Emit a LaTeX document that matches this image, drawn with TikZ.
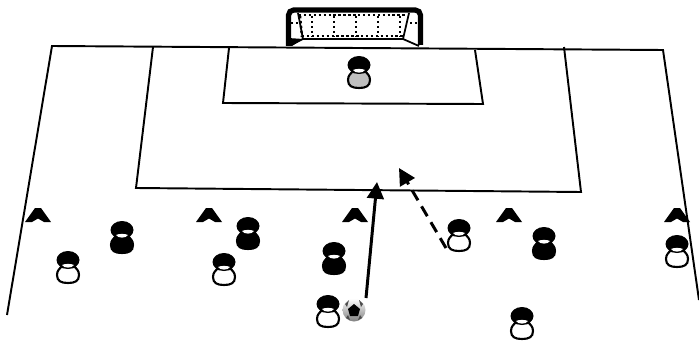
\documentclass[tikz,border=0pt]{standalone}
\usepackage[rgb]{xcolor}
\usetikzlibrary{arrows.meta}

\tikzset{
  fieldline/.style={draw=black, line width=1.1pt},
  netdots/.style={black, line width=1.4pt, dash pattern=on 1.4pt off 1.4pt},
  run/.style={black, line width=1.7pt, -{Triangle[length=9.5pt, width=9.5pt]}},
  cone/.pic={\fill[black] (-13,7) -- (-3,-7) -- (3,-7) -- (13,7) -- (6,7) -- (0,3.5) -- (-6,7) -- cycle;},
  player/.pic={
    % body first, then the head on top with the white gap under it
    \filldraw[fill=#1, draw=black, line width=1.2pt]
      (-7,7) .. controls (-8,9) and (-11,10) .. (-11,15)
      .. controls (-11,21) and (-7,23) .. (0,23)
      .. controls (7,23) and (11,21) .. (11,15)
      .. controls (11,10) and (8,9) .. (7,7) -- cycle;
    \fill[black] (0,0) ellipse [x radius=11.5, y radius=9];
    \fill[white] (-6,5) .. controls (-3,3.5) and (3,3.5) .. (6,5)
      .. controls (4,8.5) and (-4,8.5) .. cycle;
  }
}

\begin{document}
\begin{tikzpicture}[x=0.02cm, y=-0.02cm]
\useasboundingbox (0,0) rectangle (699,341);

% field lines
\draw[fieldline] (7,315) -- (52,46) -- (663,50) -- (699,300);
\draw[fieldline] (153,47) -- (136,188) -- (581,192) -- (564,47);
\draw[fieldline] (229,48) -- (223,103) -- (483,104) -- (475,50);

% goal with side panels
\fill[black] (288,38) -- (303,39) -- (292,46) -- (288,46) -- cycle;
\draw[black, line width=3pt, rounded corners=3pt] (288.5,46) -- (288.5,10) -- (420.5,10) -- (420.5,45);
\draw[black, line width=1pt] (298,13) -- (303,39) -- (291,45);
\draw[black, line width=1pt] (409,13) -- (403,39) -- (419,46);
\draw[black, line width=1pt] (303,39) -- (403,39);
\draw[netdots] (299,15) -- (405,15);
\draw[netdots] (302,36) -- (403,36);
\foreach \netx in {312,334,356,378,400}
  \draw[netdots] (\netx,16) -- (\netx,36);
\draw[netdots] (300,16) -- (302,37);
\draw[netdots] (291,23) -- (298,23);
\draw[netdots] (410,23) -- (417,23);

% cones along the line
\foreach \conex in {38,209,355,509,677}
  \pic at (\conex,215) {cone};

% players
\pic at (359,65) {player=lightgray};
\foreach \px/\py in {68/260, 224/262, 328/304, 459/228, 522/316, 677/244}
  \pic at (\px,\py) {player=white};
\foreach \px/\py in {122/230, 248/226, 334/251, 544/236}
  \pic at (\px,\py) {player=black};

% ball
\shade[top color=white, bottom color=gray] (354,310) circle (11.5);
\fill[black] (354,304) -- (360,309) -- (358,316) -- (350,316) -- (348,309) -- cycle;
\fill[black!70] (345,304) -- (349,300) -- (347,307) -- cycle;
\fill[black!70] (363,304) -- (359,300) -- (361,307) -- cycle;
\fill[black!70] (346,318) -- (350,320) -- (348,315) -- cycle;
\fill[black!70] (362,318) -- (358,320) -- (360,315) -- cycle;

% runs
\coordinate (shotstart) at (366,298);
\coordinate (shotend) at (377,182);
\coordinate (runstart) at (446,248);
\coordinate (runend) at (399,168);
\draw[run] (shotstart) -- (shotend);
\draw[run, dash pattern=on 6.5pt off 4pt] (runstart) -- (runend);

\end{tikzpicture}
\end{document}
